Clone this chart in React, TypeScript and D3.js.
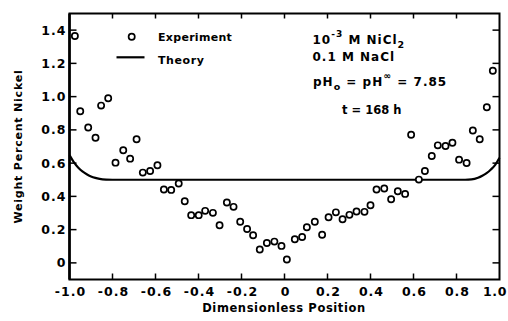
import React from "react";
import * as d3 from "d3";

// Measured nickel profile (dimensionless position, weight percent)
const expX = [
  -0.975, -0.95, -0.913, -0.879, -0.853, -0.82, -0.786, -0.75, -0.718, -0.688,
  -0.659, -0.625, -0.591, -0.561, -0.527, -0.492, -0.464, -0.434, -0.399, -0.369,
  -0.333, -0.302, -0.268, -0.237, -0.206, -0.174, -0.146, -0.115, -0.082, -0.047,
  -0.014, 0.011, 0.048, 0.082, 0.104, 0.141, 0.175, 0.205, 0.239, 0.27,
  0.302, 0.335, 0.372, 0.4, 0.428, 0.464, 0.496, 0.527, 0.561, 0.589,
  0.625, 0.653, 0.685, 0.713, 0.749, 0.781, 0.812, 0.847, 0.876, 0.908,
  0.941, 0.969,
];
const expY = [
  1.365, 0.912, 0.814, 0.753, 0.946, 0.99, 0.603, 0.677, 0.627, 0.744,
  0.543, 0.553, 0.587, 0.441, 0.439, 0.477, 0.371, 0.287, 0.287, 0.313,
  0.301, 0.226, 0.363, 0.337, 0.247, 0.204, 0.166, 0.08, 0.12, 0.128,
  0.102, 0.02, 0.142, 0.156, 0.214, 0.247, 0.169, 0.274, 0.304, 0.262,
  0.289, 0.309, 0.307, 0.347, 0.441, 0.447, 0.383, 0.431, 0.415, 0.771,
  0.501, 0.553, 0.643, 0.707, 0.703, 0.723, 0.621, 0.601, 0.796, 0.744,
  0.936, 1.156,
];

// Theoretical profile
const theoryX = [
  -1.0, -0.98, -0.96, -0.94, -0.92, -0.9, -0.88, -0.86, -0.83, -0.8,
  0.84, 0.87, 0.9, 0.92, 0.94, 0.96, 0.98, 1.0,
];
const theoryY = [
  0.648, 0.606, 0.574, 0.55, 0.533, 0.52, 0.511, 0.505, 0.501, 0.5,
  0.5, 0.502, 0.512, 0.524, 0.54, 0.562, 0.59, 0.632,
];

const xTicks = [-1.0, -0.8, -0.6, -0.4, -0.2, 0, 0.2, 0.4, 0.6, 0.8, 1.0];
const xTickLabels = ["-1.0", "-0.8", "-0.6", "-0.4", "-0.2", "0", "0.2", "0.4", "0.6", "0.8", "1.0"];
const yTicks = [0, 0.2, 0.4, 0.6, 0.8, 1.0, 1.2, 1.4];
const yTickLabels = ["0", "0.2", "0.4", "0.6", "0.8", "1.0", "1.2", "1.4"];

const W = 508;
const H = 321;
const LEFT = 69.5;
const RIGHT = 499.5;
const TOP = 13.5;
const BOTTOM = 279.5;

const FONT = "'DejaVu Sans', Verdana, sans-serif";

export default function App() {
  const x = d3.scaleLinear().domain([-1, 1]).range([LEFT, RIGHT]);
  const y = d3.scaleLinear().domain([-0.1, 1.5]).range([BOTTOM, TOP]);

  const theoryPts: [number, number][] = theoryX.map((v, i) => [v, theoryY[i]]);
  const line = d3
    .line<[number, number]>()
    .x((d) => x(d[0]))
    .y((d) => y(d[1]))
    .curve(d3.curveMonotoneX);

  const tickLen = 6;
  const innerX = xTicks.filter((t) => t > -1 && t < 1);

  return (
    <svg
      width={W}
      height={H}
      style={{ position: "absolute", left: 0, top: 0, background: "#fff" }}
    >
      <rect x={0} y={0} width={W} height={H} fill="#fff" />

      {/* theory curve */}
      <path d={line(theoryPts) || ""} fill="none" stroke="#000" strokeWidth={2.2} />

      {/* frame */}
      <rect
        x={LEFT}
        y={TOP}
        width={RIGHT - LEFT}
        height={BOTTOM - TOP}
        fill="none"
        stroke="#000"
        strokeWidth={2}
      />
      <line x1={LEFT} x2={LEFT} y1={TOP} y2={BOTTOM} stroke="#000" strokeWidth={2.6} />

      {/* inward ticks, bottom and top */}
      {innerX.map((t) => (
        <g key={"xt" + t}>
          <line x1={x(t)} x2={x(t)} y1={BOTTOM} y2={BOTTOM - tickLen} stroke="#000" strokeWidth={1.5} />
          <line x1={x(t)} x2={x(t)} y1={TOP} y2={TOP + tickLen - 1} stroke="#000" strokeWidth={1.5} />
        </g>
      ))}
      {/* inward ticks, left and right */}
      {yTicks.map((t) => (
        <g key={"yt" + t}>
          <line x1={LEFT} x2={LEFT + tickLen + 1} y1={y(t)} y2={y(t)} stroke="#000" strokeWidth={1.5} />
          <line x1={RIGHT} x2={RIGHT - tickLen - 1} y1={y(t)} y2={y(t)} stroke="#000" strokeWidth={1.5} />
        </g>
      ))}

      {/* x tick labels */}
      {xTicks.map((t, i) => {
        const last = i === xTicks.length - 1;
        return (
          <text
            key={"xl" + t}
            x={last ? W - 1 : x(t) + 1}
            y={295.5}
            textAnchor={last ? "end" : "middle"}
            fontFamily={FONT}
            fontWeight="bold"
            fontSize={12.5}
            letterSpacing={last ? 0.6 : 1}
            fill="#000"
          >
            {xTickLabels[i]}
          </text>
        );
      })}

      {/* y tick labels */}
      {yTicks.map((t, i) => (
        <text
          key={"yl" + t}
          x={LEFT - 3}
          y={y(t) + 4.5}
          textAnchor="end"
          fontFamily={FONT}
          fontWeight="bold"
          fontSize={12.5}
          letterSpacing={1}
          fill="#000"
        >
          {yTickLabels[i]}
        </text>
      ))}

      {/* axis titles */}
      <text
        x={284}
        y={311.5}
        textAnchor="middle"
        fontFamily={FONT}
        fontWeight="bold"
        fontSize={11.5}
        letterSpacing={0.6}
        fill="#000"
      >
        Dimensionless Position
      </text>
      <text
        transform={`translate(21.5, ${(TOP + BOTTOM) / 2}) rotate(-90)`}
        textAnchor="middle"
        fontFamily={FONT}
        fontWeight="bold"
        fontSize={11}
        letterSpacing={0.8}
        fill="#000"
      >
        Weight Percent Nickel
      </text>

      {/* experimental points */}
      {expX.map((v, i) => (
        <circle
          key={"p" + i}
          cx={x(v)}
          cy={y(expY[i])}
          r={3.1}
          fill="#fff"
          stroke="#000"
          strokeWidth={1.7}
        />
      ))}

      {/* legend */}
      <circle cx={131.7} cy={36.7} r={3.1} fill="#fff" stroke="#000" strokeWidth={1.7} />
      <text x={158} y={41} fontFamily={FONT} fontWeight="bold" fontSize={11} letterSpacing={0.3} fill="#000">
        Experiment
      </text>
      <line x1={116.5} x2={144.5} y1={57.3} y2={57.3} stroke="#000" strokeWidth={2.2} />
      <text x={158} y={63.5} fontFamily={FONT} fontWeight="bold" fontSize={11} letterSpacing={0.6} fill="#000">
        Theory
      </text>

      {/* conditions */}
      <g fontFamily={FONT} fontWeight="bold" fontSize={12} letterSpacing={1} fill="#000">
        <text x={312.5} y={44}>
          10
          <tspan dy={-7.5} fontSize={9}>-3</tspan>
          <tspan dy={7.5}> M NiCl</tspan>
          <tspan dy={4} fontSize={9.5}>2</tspan>
        </text>
        <text x={312.5} y={60.5}>0.1  M NaCl</text>
        <text x={313} y={86}>
          pH
          <tspan dy={4} fontSize={9.5}>o</tspan>
          <tspan dy={-4}> = pH</tspan>
          <tspan dy={-7} fontSize={9.5}>∞</tspan>
          <tspan dy={7}> = 7.85</tspan>
        </text>
        <text x={342} y={113.5} fontSize={11.5} letterSpacing={0}>
          t = 168 h
        </text>
      </g>
    </svg>
  );
}
